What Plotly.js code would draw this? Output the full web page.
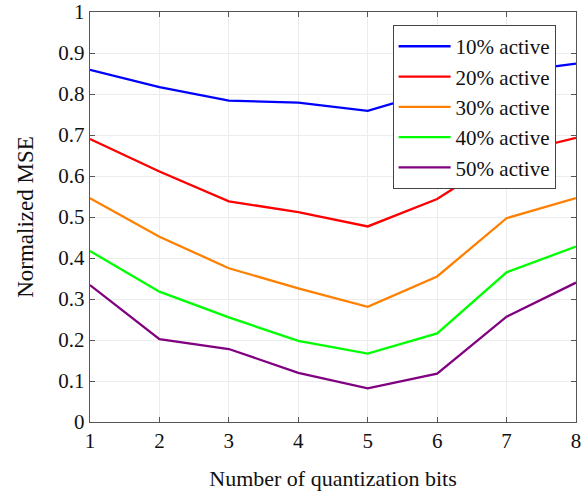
<!DOCTYPE html>
<html>
<head>
<meta charset="utf-8">
<script src="https://cdn.plot.ly/plotly-3.0.1.min.js"></script>
<style>html,body{margin:0;padding:0;background:#fff;}#chart{width:585px;height:492px;}</style>
</head>
<body>
<div id="chart"></div>
<script>
const bits = [1, 2, 3, 4, 5, 6, 7, 8];
const seriesNames = ["10% active", "20% active", "30% active", "40% active", "50% active"];
const active10 = [0.859, 0.817, 0.784, 0.779, 0.759, 0.809, 0.852, 0.874];
const active20 = [0.690, 0.611, 0.538, 0.512, 0.477, 0.544, 0.652, 0.693];
const active30 = [0.546, 0.452, 0.375, 0.326, 0.281, 0.355, 0.497, 0.546];
const active40 = [0.417, 0.318, 0.255, 0.198, 0.167, 0.216, 0.365, 0.428];
const active50 = [0.334, 0.202, 0.178, 0.120, 0.082, 0.118, 0.257, 0.340];
const yTickVals = [0, 0.1, 0.2, 0.3, 0.4, 0.5, 0.6, 0.7, 0.8, 0.9, 1];
const yTickText = ["0", "0.1", "0.2", "0.3", "0.4", "0.5", "0.6", "0.7", "0.8", "0.9", "1"];

const colors = ["#0000ff", "#ff0000", "#ff8000", "#00ff00", "#800080"];
const allSeries = [active10, active20, active30, active40, active50];
const FONT = "Liberation Serif, Times New Roman, serif";

const traces = allSeries.map((ys, i) => ({
  x: bits, y: ys, type: "scatter", mode: "lines", name: seriesNames[i],
  line: {color: colors[i], width: 2.3}
}));

const axisCommon = {
  showline: true, mirror: "ticks", linecolor: "#555", linewidth: 1.2,
  ticks: "inside", ticklen: 5, tickcolor: "#555", tickwidth: 1,
  showgrid: true, gridcolor: "#ececec", gridwidth: 1, zeroline: false,
  tickfont: {family: FONT, size: 21, color: "#111"}
};

const layout = {
  width: 585, height: 492,
  margin: {l: 90, r: 9, t: 12, b: 70},
  paper_bgcolor: "#fff", plot_bgcolor: "#fff",
  showlegend: true,
  legend: {
    x: 0.958, y: 0.968, xanchor: "right", yanchor: "top",
    itemwidth: 52,
    bgcolor: "#fff", bordercolor: "#444", borderwidth: 1,
    font: {family: FONT, size: 21, color: "#111"}
  },
  xaxis: Object.assign({}, axisCommon, {
    range: [1, 8], tickvals: bits, ticktext: bits.map(String),
    title: {text: "Number of quantization bits", font: {family: FONT, size: 22, color: "#111"}, standoff: 18}
  }),
  yaxis: Object.assign({}, axisCommon, {
    range: [0, 1], tickvals: yTickVals, ticktext: yTickText,
    title: {text: "Normalized MSE", font: {family: FONT, size: 23, color: "#111"}, standoff: 18}
  })
};

Plotly.newPlot("chart", traces, layout, {staticPlot: true, displayModeBar: false});
</script>
</body>
</html>
